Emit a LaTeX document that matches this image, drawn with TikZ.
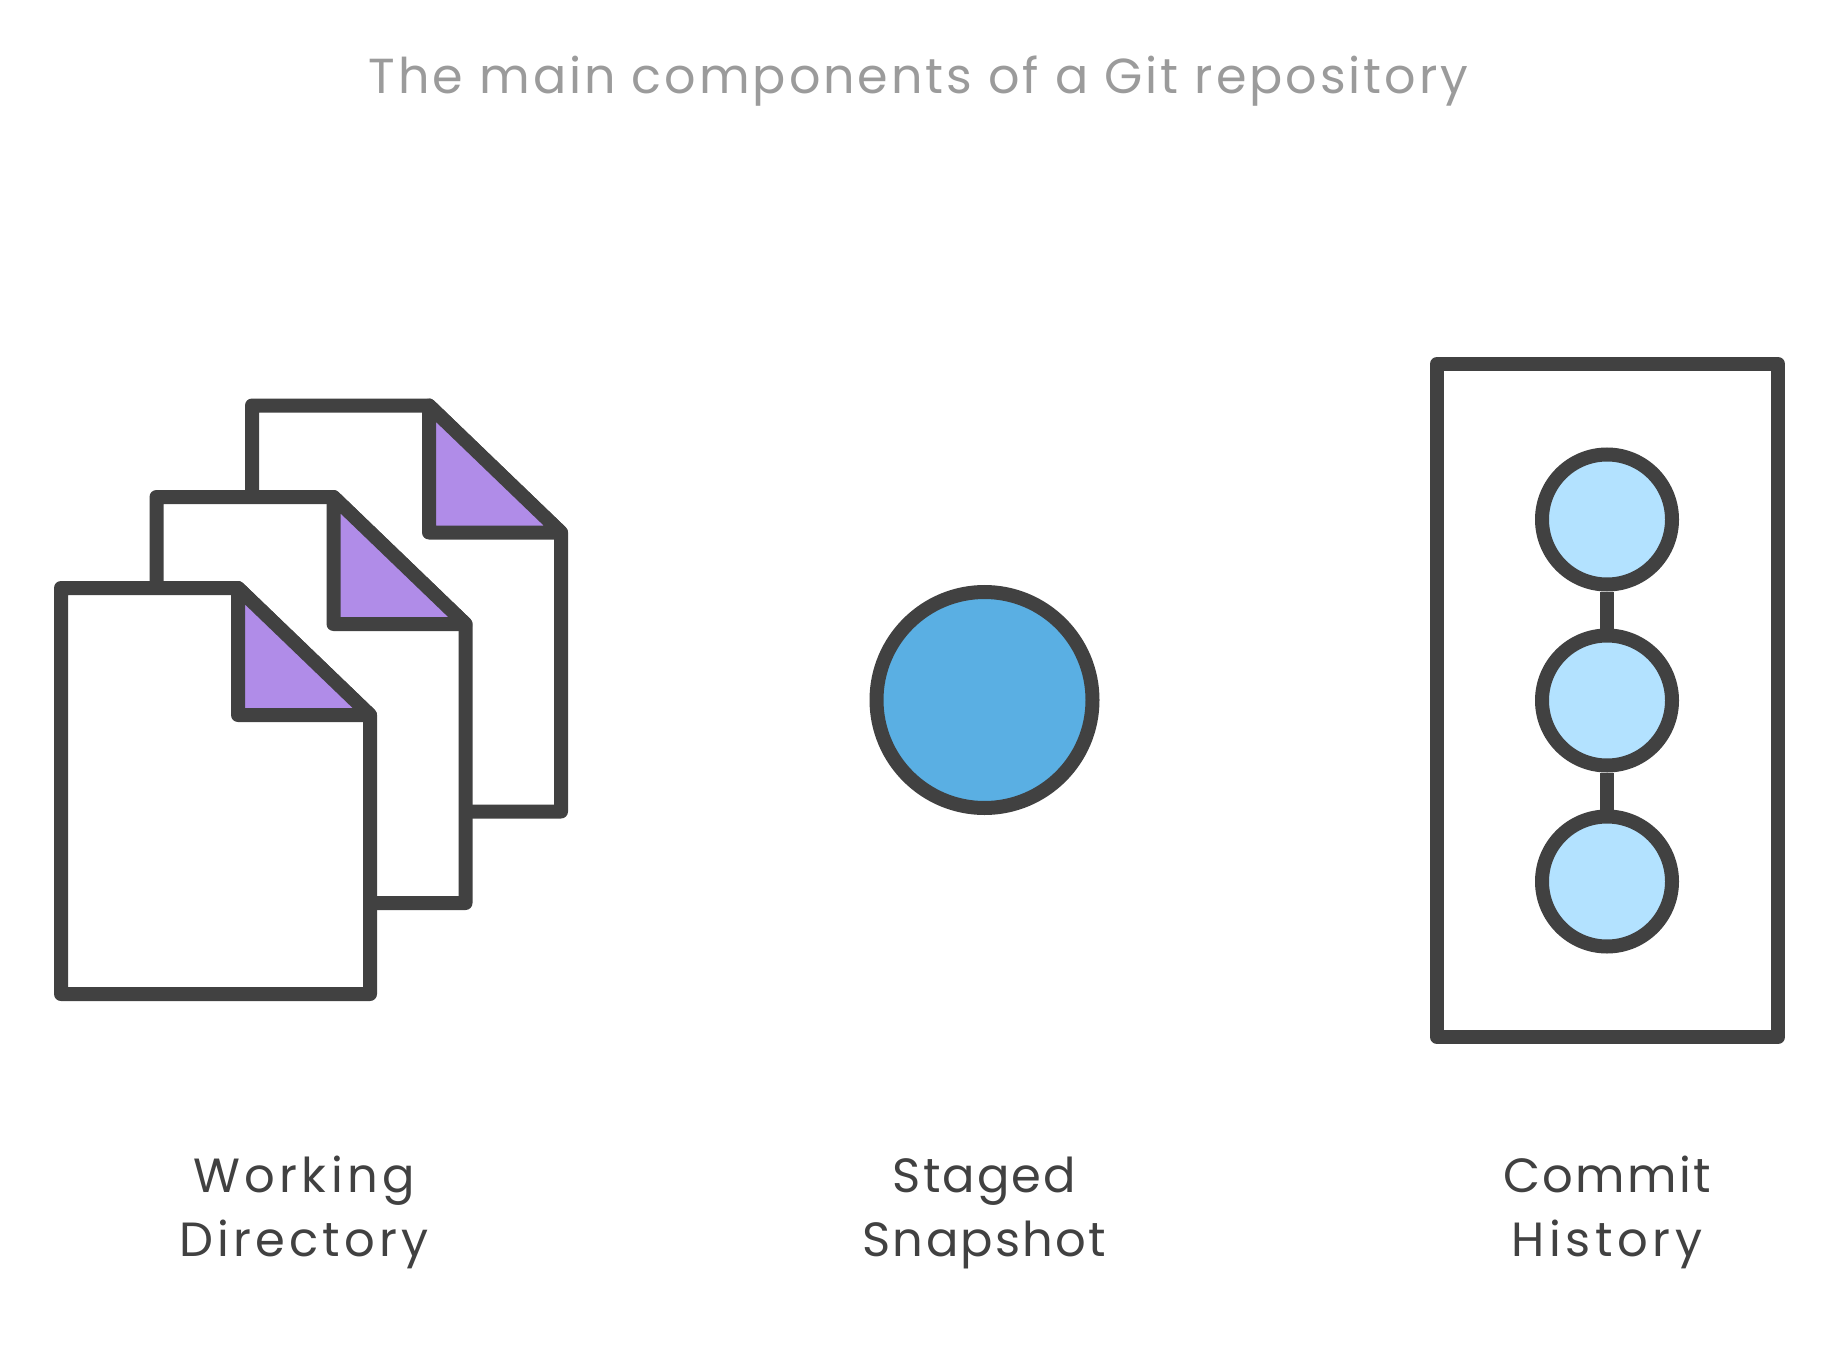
\documentclass[tikz,border=0pt]{standalone}
\usepackage{fontspec}
\setmainfont{Poppins}[LetterSpace=6]
\newcommand{\lspaced}[2]{{\addfontfeature{LetterSpace=#1}#2}}
\definecolor{ink}{HTML}{414141}
\definecolor{titlegray}{HTML}{9B9B9B}
\definecolor{foldpurple}{HTML}{B08CE8}
\definecolor{stageblue}{HTML}{5AAFE3}
\definecolor{commitblue}{HTML}{B3E2FF}
\tikzset{
  outline/.style={draw=ink,line width=14pt,line join=round},
  docsheet/.style={outline,fill=white},
  docfold/.style={outline,fill=foldpurple},
  commitdot/.style={circle,draw=ink,line width=14pt,fill=commitblue,minimum size=130pt,inner sep=0pt},
  stagedot/.style={circle,draw=ink,line width=14pt,fill=stageblue,minimum size=216pt,inner sep=0pt},
  frame/.style={outline,fill=white,rectangle},
  link/.style={draw=ink,line width=14pt},
  caption/.style={text=ink,align=center,inner sep=0pt,font=\fontsize{48pt}{64pt}\selectfont},
  heading/.style={text=titlegray,inner sep=0pt,anchor=base,font=\fontsize{49.2pt}{56pt}\selectfont}
}
\begin{document}
\begin{tikzpicture}[x=1pt,y=-1pt]
\useasboundingbox (0,0) rectangle (1840,1348);
\fill[white] (0,0) rectangle (1840,1348);
\node[heading] (title) at (918.5,94) {The main components of a Git repository};
% document stack, back to front
\foreach \dx/\dy in {189/-184.5,93.5/-93,-2/-2}{
  \begin{scope}[shift={(\dx,\dy)}]
    \draw[docsheet] (63,590) -- (240,590) -- (372,717) -- (372,996) -- (63,996) -- cycle;
    \draw[docfold] (240,590) -- (240,717) -- (372,717) -- cycle;
  \end{scope}
}
\node[stagedot] (staged) at (984.5,700) {};
\draw[frame] (1437,364) rectangle (1778,1037);
\node[commitdot] (c1) at (1607,519.5) {};
\node[commitdot] (c2) at (1607,700.5) {};
\node[commitdot] (c3) at (1607,881.5) {};
\draw[link] (c1) -- (c2);
\draw[link] (c2) -- (c3);
\node[caption] (wd) at (304,1212.5) {\lspaced{9.3}{Working}\\\lspaced{8.7}{Directory}};
\node[caption] (ss) at (984.5,1212.5) {\lspaced{4.5}{Staged}\\\lspaced{4.8}{Snapshot}};
\node[caption] (ch) at (1607,1212.5) {\lspaced{5}{Commit}\\\lspaced{9.5}{History}};
\end{tikzpicture}
\end{document}
